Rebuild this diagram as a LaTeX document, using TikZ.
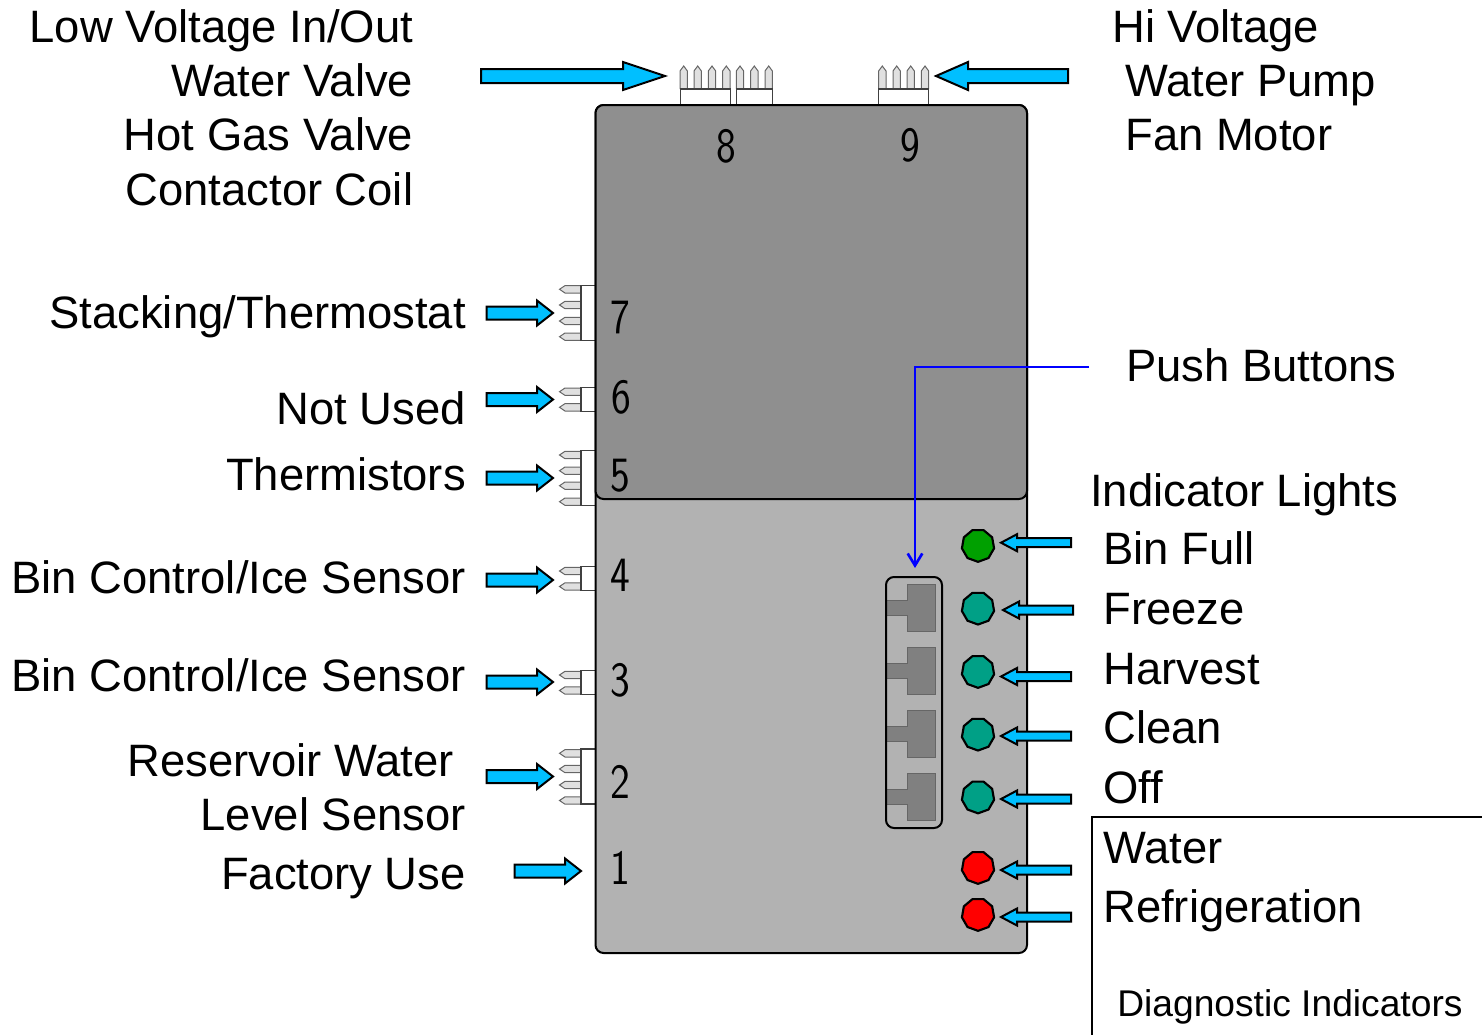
\documentclass[tikz,border=0pt]{standalone}
\usepackage{fontspec}
\setmainfont{Liberation Sans}
\usetikzlibrary{shapes.geometric,arrows.meta}
\newcommand\barrow[6]{\draw[blockarrow] (#1,#4-#5) -- (#2,#4-#5) -- (#2,#4-#6) -- (#3,#4) -- (#2,#4+#6) -- (#2,#4+#5) -- (#1,#4+#5) -- cycle;}
\newcommand\toppin[1]{\draw[pinshape] (#1-3.7,89) -- (#1-3.7,71) -- (#1,66) -- (#1+3.7,71) -- (#1+3.7,89);}
\newcommand\leftpin[1]{\draw[pinshape] (581,#1-3.7) -- (565,#1-3.7) -- (559.5,#1) -- (565,#1+3.7) -- (581,#1+3.7);}
\newcommand\housing[4]{\fill[white] (#1,#2) rectangle (#3,#4); \draw[housingedge] (#1,#2) rectangle (#3,#4);}
\newcommand\digit[1]{\scalebox{.85}[1]{#1}}
\tikzset{
 lbl/.style={font=\fontsize{34.05}{40}\selectfont,inner sep=0pt},
 lblL/.style={lbl,anchor=base west},
 lblR/.style={lbl,anchor=base east},
 num/.style={font=\fontsize{37}{40}\sffamily,inner sep=0pt,anchor=center},
 blockarrow/.style={draw=black,line width=1.5pt,fill=arrowblue,line join=miter},
 pinshape/.style={draw=black!60,line width=.75pt,fill=pingray},
 housingedge/.style={draw=black!75,line width=.9pt},
 led/.style={regular polygon,regular polygon sides=9,shape border rotate=180,draw=black,line width=1.6pt,minimum size=24.5pt,inner sep=0pt},
 btn/.style={draw=black!60,line width=.7pt,fill=btngray},
 board/.style={draw=black,line width=1.5pt,rounded corners=6pt},
}
\definecolor{arrowblue}{HTML}{00BFFF}
\definecolor{pingray}{HTML}{E0E0E0}
\definecolor{btngray}{HTML}{808080}
\definecolor{boarddark}{HTML}{8F8F8F}
\definecolor{boardlight}{HTML}{B2B2B2}
\definecolor{ledgreen}{HTML}{00A000}
\definecolor{ledteal}{HTML}{00A086}
\begin{document}
\begin{tikzpicture}[x=.75pt,y=-.75pt]
\useasboundingbox (0,0) rectangle (1482,1035);
% connectors
\foreach \p in {683.7,697.7,712,726.3,740,754.3,768.7,882.3,896.7,910.7,925}{\toppin{\p}}
\housing{680.5}{89}{730.5}{105}
\housing{736.5}{89}{772.5}{105}
\housing{878.5}{89}{928.5}{105}
\foreach \p in {289.3,305,321,336.7,391.7,407.3,455,470.7,485.7,501.7,571,586.5,675,690.5,753.3,769,785,800.5}{\leftpin{\p}}
\housing{581}{285.3}{596}{340.7}
\housing{581}{387.3}{596}{411.3}
\housing{581}{450.7}{596}{505.7}
\housing{581}{566.5}{596}{590.5}
\housing{581}{670.5}{596}{694.5}
\housing{581}{749}{596}{804}
% board
\draw[board,fill=boardlight] (595.5,105) rectangle (1027,953);
\draw[board,fill=boarddark] (595.5,105) rectangle (1027,499);
% digits
\node[num] (d8) at (726,146) {\digit{8}};
\node[num] (d9) at (910,145) {\digit{9}};
\node[num] (d7) at (620,318) {\digit{7}};
\node[num] (d6) at (621,397) {\digit{6}};
\node[num] (d5) at (620,476) {\digit{5}};
\node[num] (d4) at (620,575) {\digit{4}};
\node[num] (d3) at (620,680) {\digit{3}};
\node[num] (d2) at (620,782) {\digit{2}};
\node[num] (d1) at (620,868) {\digit{1}};
% push buttons
\foreach \y in {584,647,710,773}{
 \draw[btn] (907.3,\y) -- (935.7,\y) -- (935.7,\y+47.3) -- (907.3,\y+47.3) -- (907.3,\y+31.3) -- (886,\y+31.3) -- (886,\y+16) -- (907.3,\y+16) -- cycle;
}
\node[draw=black,line width=1.5pt,rounded corners=6pt,minimum width=42pt,minimum height=188.25pt,inner sep=0pt] (panel) at (914,702.5) {};
% LEDs
\node[led,fill=ledgreen] (l1) at (978,545.5) {};
\node[led,fill=ledteal] (l2) at (978,608.2) {};
\node[led,fill=ledteal] (l3) at (978,671.5) {};
\node[led,fill=ledteal] (l4) at (978,734.2) {};
\node[led,fill=ledteal] (l5) at (978,797) {};
\node[led,fill=red] (l6) at (978,867.5) {};
\node[led,fill=red] (l7) at (978,914.5) {};
% block arrows
\barrow{481}{623}{665}{76}{7}{14}
\barrow{1068}{968}{936}{76}{7}{14}
\foreach \y in {313,399.5,478,580,682,776.5}{\barrow{486.5}{537}{553}{\y}{6.5}{12.5}}
\barrow{514.5}{565}{581}{871}{6.5}{12.5}
\foreach \y in {542.7,676.5,736,799,870,917}{\barrow{1071}{1017}{1001}{\y}{4.5}{8.5}}
\barrow{1073}{1019}{1003}{610}{4.5}{8.5}
% left labels
\node[lblR] (t1) at (413.5,42) {Low Voltage In/Out};
\node[lblR] (t2) at (413.5,96) {Water Valve};
\node[lblR] (t3) at (413.5,150) {Hot Gas Valve};
\node[lblR] (t4) at (413.5,205) {Contactor Coil};
\node[lblR] (t5) at (466,328) {Stacking/Thermostat};
\node[lblR] (t6) at (466,424) {Not Used};
\node[lblR] (t7) at (466,490) {Thermistors};
\node[lblR] (t8) at (466,593) {Bin Control/Ice Sensor};
\node[lblR] (t9) at (466,691) {Bin Control/Ice Sensor};
\node[lblR] (t10) at (454,776) {Reservoir Water};
\node[lblR] (t11) at (466,830) {Level Sensor};
\node[lblR] (t12) at (466,889) {Factory Use};
% right labels
\node[lblL] (r1) at (1112,42) {Hi Voltage};
\node[lblL] (r2) at (1125,96) {Water Pump};
\node[lblL] (r3) at (1125,150) {Fan Motor};
\node[lblL] (r4) at (1126,381) {Push Buttons};
\node[lblL] (r5) at (1090,506) {Indicator Lights};
\node[lblL] (r6) at (1103,564) {Bin Full};
\node[lblL] (r7) at (1103,624) {Freeze};
\node[lblL] (r8) at (1103,684) {Harvest};
\node[lblL] (r9) at (1103,743) {Clean};
\node[lblL] (r10) at (1103,803) {Off};
\node[lblL] (r11) at (1103,863) {Water};
\node[lblL] (r12) at (1103,922) {Refrigeration};
\node[inner sep=0pt,anchor=base west,font=\fontsize{27.9}{32}\selectfont] (r13) at (1117,1016.5) {Diagnostic Indicators};
% callout box
\coordinate (boxbl) at (1092,1036);
\coordinate (boxtr) at (1483,817);
\draw[line width=1.5pt] (boxbl) |- (boxtr);
% push-button leader
\coordinate (leaderstart) at (1089,367);
\coordinate (leaderend) at (915,568);
\draw[draw=blue,line width=2pt,-{Straight Barb[length=9pt,width=11pt]}] (leaderstart) -| (leaderend);
\end{tikzpicture}
\end{document}
